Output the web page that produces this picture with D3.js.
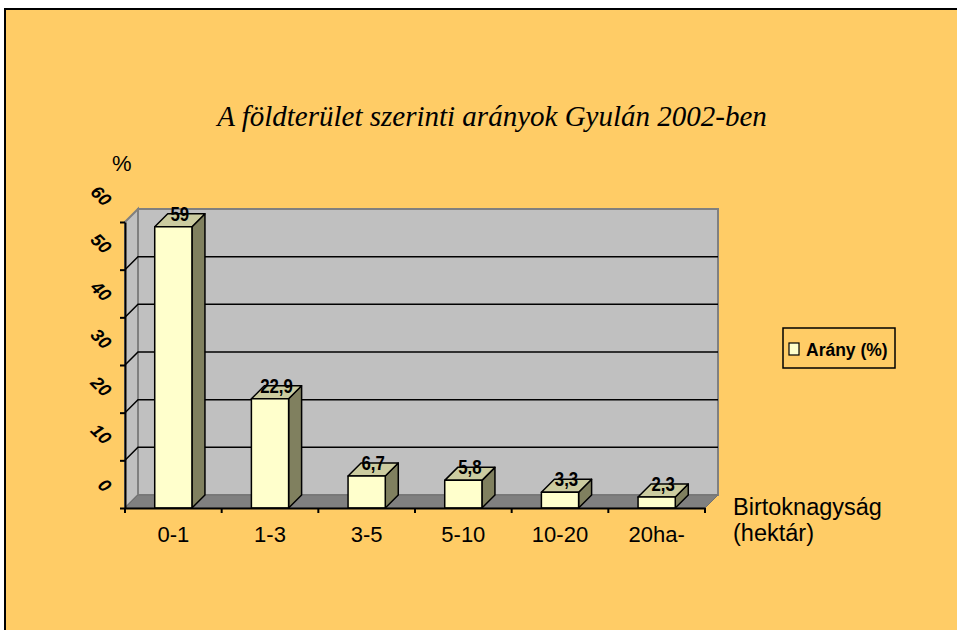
<!DOCTYPE html>
<html>
<head>
<meta charset="utf-8">
<script src="https://cdn.jsdelivr.net/npm/d3@7"></script>
<style>
  html, body { margin: 0; padding: 0; background: #fff; }
  svg { display: block; }
</style>
</head>
<body>
<div id="chart"></div>
<script>
// adatok
const categories = ["0-1", "1-3", "3-5", "5-10", "10-20", "20ha-"];
const values = [59, 22.9, 6.7, 5.8, 3.3, 2.3];
const valueLabels = ["59", "22,9", "6,7", "5,8", "3,3", "2,3"];
const yTicks = [0, 10, 20, 30, 40, 50, 60];
const seriesName = "Arány (%)";
const title = "A földterület szerinti arányok Gyulán 2002-ben";

const width = 957, height = 630;
const dx = 13, dy = -13; // 3D mélység

const svg = d3.select("#chart").append("svg")
    .attr("width", width)
    .attr("height", height);

// háttér keret
svg.append("rect")
    .attr("x", 5).attr("y", 9)
    .attr("width", width + 10).attr("height", height + 10)
    .attr("fill", "#FFCC66")
    .attr("stroke", "#000")
    .attr("stroke-width", 2);

const x = d3.scaleBand()
    .domain(categories)
    .range([125, 705])
    .padding(0);

const y = d3.scaleLinear()
    .domain([0, 60])
    .range([508, 222]);

const x0 = x.range()[0], x1 = x.range()[1];
const yb = y(0), yt = y(60);

// oldalfal
svg.append("polygon")
    .attr("points", [[x0, yb], [x0, yt], [x0 + dx, yt + dy], [x0 + dx, yb + dy]].join(" "))
    .attr("fill", "#C0C0C0")
    .attr("stroke", "#808080")
    .attr("stroke-width", 2);

// hátfal
svg.append("rect")
    .attr("x", x0 + dx).attr("y", yt + dy)
    .attr("width", x1 - x0).attr("height", yb - yt)
    .attr("fill", "#C0C0C0")
    .attr("stroke", "#808080")
    .attr("stroke-width", 2);

// padló
svg.append("polygon")
    .attr("points", [[x0, yb], [x1, yb], [x1 + dx, yb + dy], [x0 + dx, yb + dy]].join(" "))
    .attr("fill", "#808080")
    .attr("stroke", "#707070")
    .attr("stroke-width", 1);

// rácsvonalak
const grid = svg.append("g");
yTicks.filter(d => d > 0 && d < 60).forEach(d => {
    grid.append("polyline")
        .attr("points", [[x0, y(d)], [x0 + dx, y(d) + dy], [x1 + dx, y(d) + dy]].join(" "))
        .attr("fill", "none")
        .attr("stroke", "#000")
        .attr("stroke-width", 1.5);
});

// oszlopok
const bw = x.bandwidth() * 0.385;
const bars = svg.append("g");
values.forEach((v, i) => {
    const bx = x(categories[i]) + (x.bandwidth() - bw) / 2;
    const by = y(v);
    const g = bars.append("g")
        .attr("stroke", "#000")
        .attr("stroke-width", 1.5)
        .attr("stroke-linejoin", "round");
    g.append("polygon")
        .attr("points", [[bx + bw, by], [bx + bw + dx, by + dy], [bx + bw + dx, yb + dy], [bx + bw, yb]].join(" "))
        .attr("fill", "#80805F");
    g.append("polygon")
        .attr("points", [[bx, by], [bx + dx, by + dy], [bx + bw + dx, by + dy], [bx + bw, by]].join(" "))
        .attr("fill", "#CCCCA0");
    g.append("rect")
        .attr("x", bx).attr("y", by)
        .attr("width", bw).attr("height", yb - by)
        .attr("fill", "#FFFFCC");
});

// értékcímkék
svg.append("g").selectAll("text")
    .data(values)
    .join("text")
    .attr("transform", (d, i) => {
        const cx = x(categories[i]) + x.bandwidth() / 2 + dx / 2;
        return `translate(${cx},${y(d) - 6}) scale(0.8,1)`;
    })
    .attr("text-anchor", "middle")
    .style("font-family", "Arial, 'Liberation Sans', sans-serif")
    .style("font-size", "21px")
    .style("font-weight", "bold")
    .style("fill", "#000")
    .text((d, i) => valueLabels[i]);

// Y tengely
const yAxis = svg.append("g")
    .attr("transform", `translate(${x0},0)`)
    .call(d3.axisLeft(y).tickValues(yTicks).tickSize(5).tickSizeOuter(0).tickFormat(""));
yAxis.select(".domain").attr("stroke-width", 2);
yAxis.selectAll(".tick line").attr("stroke-width", 2);

svg.append("g").selectAll("text")
    .data(yTicks)
    .join("text")
    .attr("transform", d => `translate(108,${y(d) - 19}) rotate(45)`)
    .attr("text-anchor", "end")
    .attr("dominant-baseline", "central")
    .style("font-family", "Arial, 'Liberation Sans', sans-serif")
    .style("font-size", "18px")
    .style("font-weight", "bold")
    .style("font-style", "italic")
    .text(d => d);

// X tengely
const xAxis = svg.append("g")
    .attr("transform", `translate(0,${yb})`)
    .call(d3.axisBottom(x).tickSize(0).tickSizeOuter(0));
xAxis.select(".domain").attr("stroke-width", 2);
xAxis.selectAll(".tick text")
    .attr("y", 34)
    .attr("dy", 0)
    .style("font-family", "Arial, 'Liberation Sans', sans-serif")
    .style("font-size", "22px")
    .style("fill", "#000");

// kategória határ jelölők
const bounds = categories.map(c => x(c)).concat([x1]);
xAxis.selectAll(".bound")
    .data(bounds)
    .join("line")
    .attr("x1", d => d).attr("x2", d => d)
    .attr("y1", 0).attr("y2", 5)
    .attr("stroke", "#000")
    .attr("stroke-width", 2);

// cím
svg.append("text")
    .attr("x", 492).attr("y", 126)
    .attr("text-anchor", "middle")
    .style("font-family", "'Times New Roman', 'Liberation Serif', serif")
    .style("font-style", "italic")
    .style("font-size", "29px")
    .text(title);

// tengelycímek
svg.append("text")
    .attr("x", 112).attr("y", 171)
    .style("font-family", "Arial, 'Liberation Sans', sans-serif")
    .style("font-size", "22px")
    .text("%");

const xt = svg.append("text")
    .attr("x", 733).attr("y", 515)
    .style("font-family", "Arial, 'Liberation Sans', sans-serif")
    .style("font-size", "23.5px");
xt.append("tspan").attr("x", 733).text("Birtoknagyság");
xt.append("tspan").attr("x", 733).attr("dy", 26).text("(hektár)");

// jelmagyarázat
const legend = svg.append("g").attr("transform", "translate(783,328)");
legend.append("rect")
    .attr("width", 112).attr("height", 40)
    .attr("fill", "#FFCC66")
    .attr("stroke", "#000")
    .attr("stroke-width", 1.5);
legend.append("rect")
    .attr("x", 6).attr("y", 15)
    .attr("width", 10).attr("height", 12)
    .attr("fill", "#FFFFCC")
    .attr("stroke", "#000")
    .attr("stroke-width", 1.2);
legend.append("text")
    .attr("x", 23).attr("y", 28)
    .style("font-family", "Arial, 'Liberation Sans', sans-serif")
    .style("font-size", "17.5px")
    .style("font-weight", "bold")
    .text(seriesName);
</script>
</body>
</html>
